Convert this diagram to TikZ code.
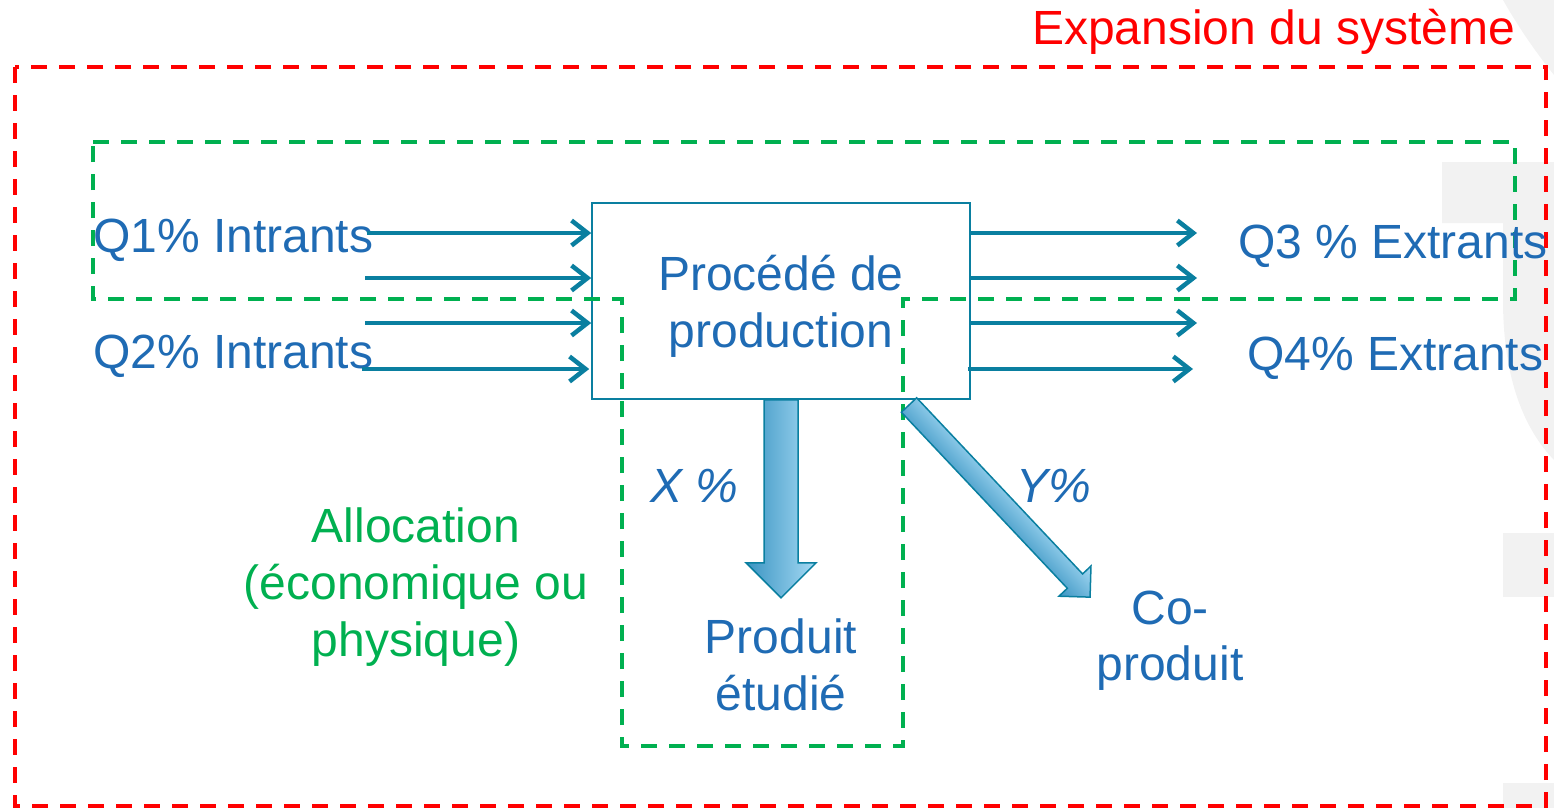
\documentclass[tikz,border=0pt]{standalone}
\usepackage{fontspec}
\setmainfont{Liberation Sans}
\usetikzlibrary{arrows.meta}

\definecolor{flowteal}{HTML}{0A7FA0}
\definecolor{labelblue}{HTML}{1F6BB4}
\definecolor{allocgreen}{HTML}{00B050}
\definecolor{expred}{HTML}{FF0000}
\definecolor{ghost}{HTML}{F2F2F2}
\definecolor{blockdark}{HTML}{3A94C2}
\definecolor{blocklight}{HTML}{A6DAF4}

\tikzset{
  txt/.style={inner sep=0pt, outer sep=0pt, font=\fontsize{48}{57}\selectfont},
  bluetxt/.style={txt, text=labelblue},
  greentxt/.style={txt, text=allocgreen},
  redtxt/.style={txt, text=expred},
  pctxt/.style={bluetxt, font=\fontsize{48}{57}\selectfont\itshape},
  boundary/.style={line width=3.6pt, dash pattern=on 16pt off 12pt},
  flow/.style={flowteal, line width=4.5pt, -{Straight Barb[length=16pt, width=25pt, line width=4.5pt]}},
  procbox/.style={draw=flowteal, line width=1.6pt, fill=white, minimum width=378pt, minimum height=196pt, inner sep=0pt},
  blockarrow/.style={draw=flowteal, line width=1.5pt, line join=miter, left color=blockdark, right color=blocklight}
}

% block arrow pointing along local +y: length, shaft half width, head half width, head length
\newcommand\blockarrowshape[4]{%
  (-#2,0) -- (#2,0) -- (#2,#1-#4) -- (#3,#1-#4) -- (0,#1) -- (-#3,#1-#4) -- (-#2,#1-#4) -- cycle}

\begin{document}
\begin{tikzpicture}[x=1pt, y=-1pt]
\useasboundingbox (0,0) rectangle (1554,808);

% light background shapes on the right edge
\fill[ghost] (1503,0) .. controls (1520,30) and (1538,55) .. (1554,75) -- (1554,0) -- cycle;
\fill[ghost] (1442,162) -- (1554,162) -- (1554,460)
  .. controls (1525,430) and (1503,380) .. (1503,300) -- (1503,223) -- (1442,223) -- cycle;
\fill[ghost] (1503,533) rectangle (1554,597);
\fill[ghost] (1503,783) rectangle (1554,808);

% system expansion boundary
\draw[boundary, expred] (15,67) rectangle (1546,806);
\node[redtxt, anchor=base west] (exptitle) at (1032,45) {Expansion du système};

% production process
\node[procbox] (proc) at (781,301) {};
\node[bluetxt, anchor=base] (procA) at (781,290) {Procédé de};
\node[bluetxt, anchor=base] (procB) at (781,347) {production};

% allocation boundary
\draw[boundary, allocgreen] (93,142) -- (1515,142) -- (1515,299) -- (903,299) -- (903,746)
  -- (622,746) -- (622,299) -- (93,299) -- cycle;

% inputs
\node[bluetxt, anchor=base west] (q1) at (93,252) {Q1\% Intrants};
\node[bluetxt, anchor=base west] (q2) at (93,368) {Q2\% Intrants};
\coordinate (inA) at (367,233);
\coordinate (inB) at (365,278);
\coordinate (inC) at (365,323);
\coordinate (inD) at (362,369);
\draw[flow] (inA) -- (inA -| proc.west);
\draw[flow] (inB) -- (inB -| proc.west);
\draw[flow] (inC) -- (inC -| proc.west);
\draw[flow] (inD) -- ([xshift=-2pt]inD -| proc.west);

% outputs
\coordinate (outA) at (1197,233);
\coordinate (outB) at (1197,278);
\coordinate (outC) at (1197,323);
\coordinate (outD) at (1193,369);
\draw[flow] (proc.east |- outA) -- (outA);
\draw[flow] (proc.east |- outB) -- (outB);
\draw[flow] (proc.east |- outC) -- (outC);
\draw[flow] ([xshift=-3pt]proc.east |- outD) -- (outD);
\node[bluetxt, anchor=base west] (q3) at (1238,258) {Q3 \% Extrants};
\node[bluetxt, anchor=base west] (q4) at (1247,370) {Q4\% Extrants};

% studied product and co-product flows
\begin{scope}[transform canvas={shift={(proc.south)}}]
  \path[blockarrow] \blockarrowshape{198}{17}{35}{35};
\end{scope}
\begin{scope}[transform canvas={shift={(909,405)}, rotate=43.3}]
  \path[blockarrow] \blockarrowshape{264}{10.5}{22}{22};
\end{scope}
\node[pctxt, anchor=base west] (xpct) at (650,502) {X \%};
\node[pctxt, anchor=base west] (ypct) at (1016,502) {Y\%};

\node[bluetxt, anchor=base] (prodA) at (781,653) {Produit};
\node[bluetxt, anchor=base] (prodB) at (781,710) {étudié};
\node[bluetxt, anchor=base] (coA) at (1170,624) {Co-};
\node[bluetxt, anchor=base] (coB) at (1170,680) {produit};

\node[greentxt, anchor=base] (allocA) at (416,542) {Allocation};
\node[greentxt, anchor=base] (allocB) at (416,599) {(économique ou};
\node[greentxt, anchor=base] (allocC) at (416,656) {physique)};
\end{tikzpicture}
\end{document}
